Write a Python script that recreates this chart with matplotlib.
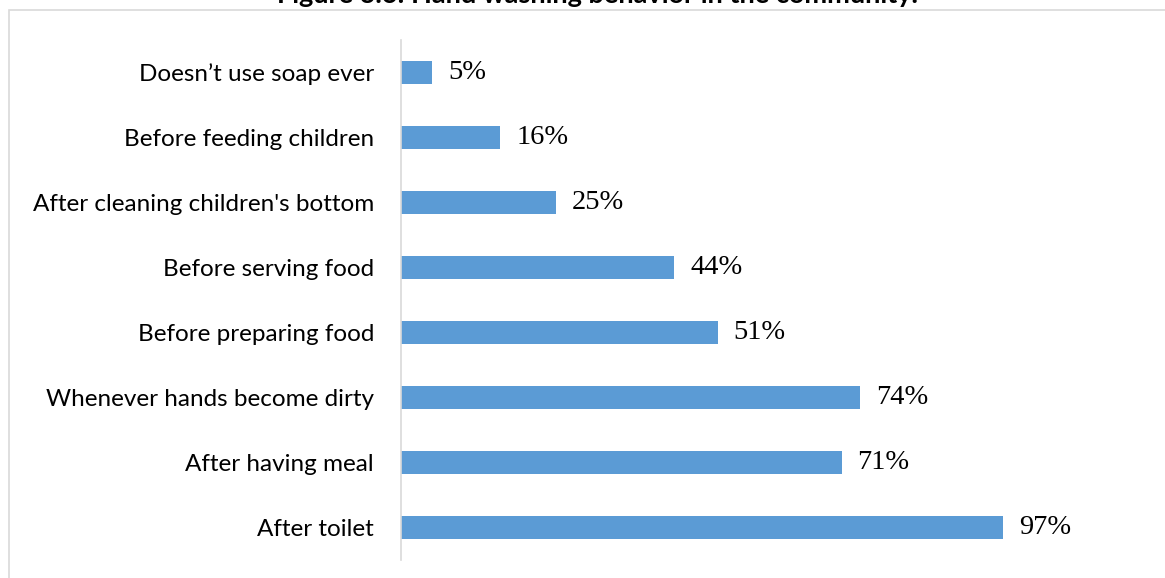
import matplotlib.pyplot as plt
from matplotlib.patches import Rectangle

# hand washing occasions, top to bottom
occasions = ["Doesn\u2019t use soap ever", "Before feeding children",
             "After cleaning children's bottom", "Before serving food",
             "Before preparing food", "Whenever hands become dirty",
             "After having meal", "After toilet"]
percent = [5, 16, 25, 44, 51, 74, 71, 97]

W, H = 1165, 578
fig = plt.figure(figsize=(W / 100, H / 100), dpi=100)

# grey chart-area border, running off the right and bottom edges
fig.patches.append(Rectangle((9 / W, -0.1), 1.2, 1 - 10 / H + 0.1,
                             transform=fig.transFigure, fill=False,
                             edgecolor="#d9d9d9", linewidth=1.2))

ax = fig.add_axes([401 / W, 18 / H, 620.6 / W, 520 / H])
y = list(range(len(occasions)))
ax.barh(y, percent, height=0.34, color="#5b9bd5")
ax.set_xlim(0, 100)
ax.set_ylim(len(occasions) - 0.5, -0.5)

ax.set_yticks(y)
ax.set_yticklabels(occasions, fontsize=17.5, family="Lato")
ax.tick_params(axis="y", length=0, pad=19.5)
ax.set_xticks([])
for s in ["top", "right", "bottom"]:
    ax.spines[s].set_visible(False)
ax.spines["left"].set_color("#d9d9d9")
ax.spines["left"].set_linewidth(1.2)

for yi, v in zip(y, percent):
    ax.annotate(f"{v}%", (v, yi), xytext=(11.5, 0), textcoords="offset points",
                va="center", ha="left", fontsize=20.5, family="Liberation Serif")

fig.text(597 / W, 1 - 3 / H, "Figure 3.6: Hand washing behavior in the community.",
         ha="center", va="baseline", fontsize=19.5, fontweight="bold", family="Lato")

fig.savefig("out.png", dpi=100)
